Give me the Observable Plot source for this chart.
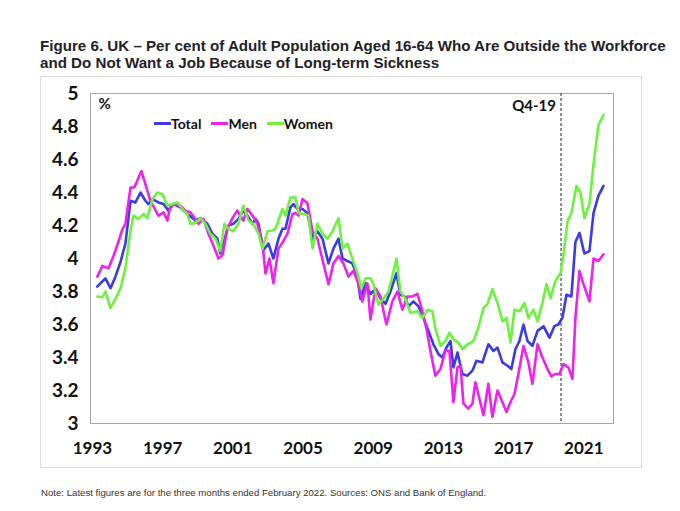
<!DOCTYPE html>
<html>
<head>
<meta charset="utf-8">
<script src="https://cdn.jsdelivr.net/npm/d3@7"></script>
<script src="https://cdn.jsdelivr.net/npm/@observablehq/plot@0.6"></script>
<style>
  body { margin: 0; background: #fff; width: 680px; height: 511px; position: relative; overflow: hidden; }
  #title { position: absolute; left: 40px; top: 37px; font: bold 15.15px "Liberation Sans", Arial, sans-serif; line-height: 17px; color: #1f2226; white-space: nowrap; }
  #box { position: absolute; left: 40px; top: 76px; width: 600px; height: 390px; border: 1px solid #dddddd; }
  #chart { position: absolute; left: 41px; top: 77px; }
  #legend { position: absolute; left: 154px; top: 115px; display: flex; align-items: center; font: bold 14px Lato, sans-serif; color: #111; }
  #legend .sw { display: inline-block; width: 17px; height: 3px; }
  #legend .it { display: flex; align-items: center; margin-right: 10px; }
  #note { position: absolute; left: 41px; top: 487px; font: 9.65px "Liberation Sans", Arial, sans-serif; color: #333; white-space: nowrap; }
</style>
</head>
<body>
<div id="title">Figure 6. UK – Per cent of Adult Population Aged 16-64 Who Are Outside the Workforce<br>and Do Not Want a Job Because of Long-term Sickness</div>
<div id="box"></div>
<div id="chart"></div>
<div id="legend"></div>
<div id="note">Note: Latest figures are for the three months ended February 2022. Sources: ONS and Bank of England.</div>
<script>
const seriesNames = ["Total", "Men", "Women"];
const seriesColors = ["#3a3ae8", "#ee22ee", "#6df23e"];
const xTicks = [1993, 1997, 2001, 2005, 2009, 2013, 2017, 2021];
const yTicks = [3, 3.2, 3.4, 3.6, 3.8, 4, 4.2, 4.4, 4.6, 4.8, 5];
const markerDate = 2019.7;
const markerLabel = "Q4-19";
const unitLabel = "%";

const totalSeries = [
[1993.27,3.83],[1993.74,3.88],[1994.03,3.82],[1994.31,3.89],[1994.60,3.98],[1994.88,4.09],[1995.17,4.35],[1995.45,4.34],[1995.74,4.40],[1996.02,4.35],[1996.19,4.33],[1996.42,4.36],[1996.76,4.34],[1997.05,4.33],[1997.33,4.29],[1997.62,4.33],[1998.01,4.31],[1998.41,4.27],[1998.87,4.23],[1999.15,4.245],[1999.55,4.21],[1999.84,4.15],[2000.12,4.12],[2000.29,4.03],[2000.46,4.09],[2000.75,4.20],[2001.03,4.21],[2001.32,4.24],[2001.60,4.29],[2001.83,4.26],[2002.12,4.21],[2002.29,4.24],[2002.46,4.21],[2002.74,4.05],[2003.03,4.09],[2003.31,4.00],[2003.60,4.12],[2003.83,4.18],[2004.00,4.18],[2004.28,4.31],[2004.45,4.33],[2004.68,4.30],[2004.97,4.30],[2005.25,4.275],[2005.54,4.12],[2005.82,4.165],[2006.11,4.12],[2006.45,3.97],[2006.73,4.06],[2007.02,4.12],[2007.25,4.00],[2007.53,3.985],[2007.81,3.97],[2008.10,3.89],[2008.27,3.755],[2008.56,3.85],[2008.84,3.785],[2009.13,3.815],[2009.41,3.76],[2009.70,3.725],[2009.98,3.80],[2010.32,3.91],[2010.55,3.78],[2010.78,3.77],[2011.01,3.71],[2011.29,3.74],[2011.58,3.71],[2011.86,3.64],[2012.15,3.56],[2012.43,3.48],[2012.72,3.42],[2012.94,3.40],[2013.17,3.46],[2013.40,3.50],[2013.57,3.34],[2013.80,3.43],[2014.08,3.30],[2014.37,3.29],[2014.65,3.32],[2014.88,3.38],[2015.22,3.37],[2015.56,3.48],[2015.85,3.44],[2016.08,3.46],[2016.36,3.37],[2016.65,3.35],[2016.87,3.33],[2017.10,3.45],[2017.33,3.50],[2017.56,3.60],[2017.79,3.50],[2018.07,3.47],[2018.36,3.56],[2018.70,3.59],[2019.04,3.52],[2019.32,3.59],[2019.55,3.60],[2019.78,3.64],[2020.01,3.78],[2020.29,3.77],[2020.52,4.10],[2020.75,4.155],[2021.03,4.03],[2021.32,4.045],[2021.55,4.275],[2021.83,4.38],[2022.12,4.44]
];

const menSeries = [
[1993.28,3.89],[1993.57,3.955],[1993.91,3.94],[1994.20,4.015],[1994.48,4.10],[1994.71,4.18],[1994.88,4.21],[1995.17,4.43],[1995.39,4.43],[1995.79,4.53],[1996.02,4.45],[1996.30,4.35],[1996.76,4.26],[1997.05,4.28],[1997.27,4.23],[1997.44,4.32],[1997.73,4.33],[1998.01,4.32],[1998.30,4.29],[1998.58,4.28],[1999.04,4.21],[1999.32,4.24],[1999.61,4.15],[1999.89,4.08],[2000.18,4.00],[2000.41,4.02],[2000.69,4.18],[2000.98,4.245],[2001.26,4.29],[2001.60,4.23],[2001.83,4.30],[2002.12,4.26],[2002.40,4.21],[2002.69,4.09],[2002.86,3.91],[2003.09,4.00],[2003.31,3.85],[2003.60,4.06],[2003.88,4.105],[2004.11,4.15],[2004.40,4.27],[2004.57,4.275],[2004.74,4.26],[2004.97,4.36],[2005.25,4.335],[2005.54,4.165],[2005.82,4.12],[2006.16,3.97],[2006.45,3.845],[2006.73,3.97],[2007.02,4.015],[2007.30,3.97],[2007.59,3.89],[2007.87,3.925],[2008.16,3.845],[2008.38,3.74],[2008.67,3.85],[2008.84,3.63],[2009.13,3.82],[2009.41,3.77],[2009.75,3.60],[2010.09,3.74],[2010.38,3.80],[2010.66,3.69],[2010.95,3.77],[2011.23,3.77],[2011.52,3.785],[2011.75,3.70],[2012.03,3.575],[2012.26,3.44],[2012.54,3.29],[2012.83,3.33],[2013.11,3.44],[2013.34,3.44],[2013.57,3.13],[2013.80,3.34],[2013.97,3.35],[2014.14,3.12],[2014.42,3.09],[2014.65,3.12],[2014.82,3.25],[2015.05,3.15],[2015.28,3.05],[2015.56,3.24],[2015.79,3.04],[2016.08,3.20],[2016.36,3.13],[2016.59,3.07],[2016.82,3.13],[2017.05,3.18],[2017.27,3.30],[2017.56,3.47],[2017.84,3.37],[2018.07,3.24],[2018.36,3.48],[2018.64,3.40],[2018.93,3.33],[2019.15,3.285],[2019.38,3.30],[2019.61,3.30],[2019.84,3.36],[2020.12,3.34],[2020.35,3.27],[2020.52,3.64],[2020.75,3.925],[2020.98,3.845],[2021.32,3.74],[2021.55,4.00],[2021.83,3.985],[2022.12,4.025]
];

const womenSeries = [
[1993.28,3.77],[1993.57,3.765],[1993.74,3.80],[1994.03,3.70],[1994.31,3.755],[1994.60,3.82],[1994.88,3.94],[1995.17,4.17],[1995.34,4.26],[1995.62,4.24],[1995.91,4.27],[1996.13,4.245],[1996.42,4.36],[1996.70,4.40],[1996.99,4.39],[1997.27,4.32],[1997.56,4.33],[1997.84,4.34],[1998.13,4.30],[1998.41,4.27],[1998.58,4.21],[1998.87,4.215],[1999.15,4.245],[1999.44,4.21],[1999.72,4.15],[2000.01,4.12],[2000.29,4.045],[2000.52,4.21],[2000.75,4.18],[2001.03,4.165],[2001.32,4.21],[2001.60,4.32],[2001.89,4.23],[2002.17,4.21],[2002.46,4.15],[2002.69,4.06],[2002.97,4.165],[2003.26,4.17],[2003.43,4.18],[2003.83,4.30],[2004.00,4.26],[2004.28,4.37],[2004.57,4.37],[2004.74,4.275],[2005.02,4.27],[2005.31,4.26],[2005.54,4.06],[2005.82,4.21],[2006.11,4.15],[2006.39,4.12],[2006.68,4.165],[2007.02,4.245],[2007.25,4.06],[2007.53,4.09],[2007.81,4.00],[2008.10,3.91],[2008.33,3.82],[2008.56,3.88],[2008.84,3.88],[2009.01,3.845],[2009.30,3.72],[2009.58,3.755],[2009.87,3.80],[2010.15,3.92],[2010.32,4.00],[2010.55,3.80],[2010.83,3.755],[2011.12,3.67],[2011.52,3.68],[2011.80,3.64],[2012.09,3.69],[2012.37,3.68],[2012.54,3.575],[2012.83,3.47],[2013.11,3.50],[2013.34,3.55],[2013.57,3.51],[2013.85,3.49],[2014.08,3.45],[2014.37,3.48],[2014.71,3.50],[2014.99,3.58],[2015.28,3.70],[2015.51,3.725],[2015.79,3.815],[2016.08,3.73],[2016.36,3.62],[2016.59,3.64],[2016.82,3.49],[2017.05,3.69],[2017.33,3.68],[2017.62,3.73],[2017.84,3.64],[2018.13,3.69],[2018.36,3.62],[2018.64,3.73],[2018.87,3.845],[2019.10,3.76],[2019.38,3.865],[2019.67,3.91],[2019.84,4.025],[2020.07,4.225],[2020.29,4.275],[2020.58,4.44],[2020.81,4.40],[2021.03,4.245],[2021.32,4.33],[2021.55,4.57],[2021.83,4.81],[2022.12,4.87]
];

const allSeries = [totalSeries, menSeries, womenSeries];

const chart = Plot.plot({
  width: 600,
  height: 390,
  marginLeft: 49,
  marginRight: 28,
  marginTop: 16,
  marginBottom: 44,
  x: {domain: [1992.89, 2022.69]},
  y: {domain: [3, 5]},
  style: {fontFamily: "Lato, sans-serif", fontWeight: "bold", fontSize: "16px", color: "#111", background: "transparent", overflow: "visible"},
  marks: [
    Plot.frame({stroke: "#a6a6a6"}),
    Plot.axisY(yTicks, {tickSize: 0, tickPadding: 12, label: null, fontSize: 19, tickFormat: d => String(+d.toFixed(1))}),
    Plot.axisX(xTicks, {tickSize: 0, tickPadding: 18, label: null, fontSize: 17, tickFormat: d => String(d)}),
    Plot.ruleX([markerDate], {stroke: "#555", strokeDasharray: "3,2", strokeWidth: 1.3}),
    Plot.text([markerLabel], {x: markerDate, text: d => d, frameAnchor: "top", textAnchor: "end", lineAnchor: "middle", dx: -5, dy: 13, fontSize: 15, fontWeight: "bold", fill: "#111"}),
    Plot.text([unitLabel], {text: d => d, frameAnchor: "top-left", textAnchor: "start", lineAnchor: "middle", dx: 8, dy: 11, fontSize: 15, fontWeight: "bold", fill: "#111"}),
    ...allSeries.map((s, i) => Plot.line(s, {x: d => d[0], y: d => d[1], stroke: seriesColors[i], strokeWidth: 2.6, strokeLinejoin: "round"}))
  ]
});
document.getElementById("chart").appendChild(chart);

const legend = document.getElementById("legend");
seriesNames.forEach((name, i) => {
  const it = document.createElement("span");
  it.className = "it";
  const sw = document.createElement("span");
  sw.className = "sw";
  sw.style.background = seriesColors[i];
  const tx = document.createElement("span");
  tx.textContent = name;
  it.appendChild(sw);
  it.appendChild(tx);
  legend.appendChild(it);
});
</script>
</body>
</html>
